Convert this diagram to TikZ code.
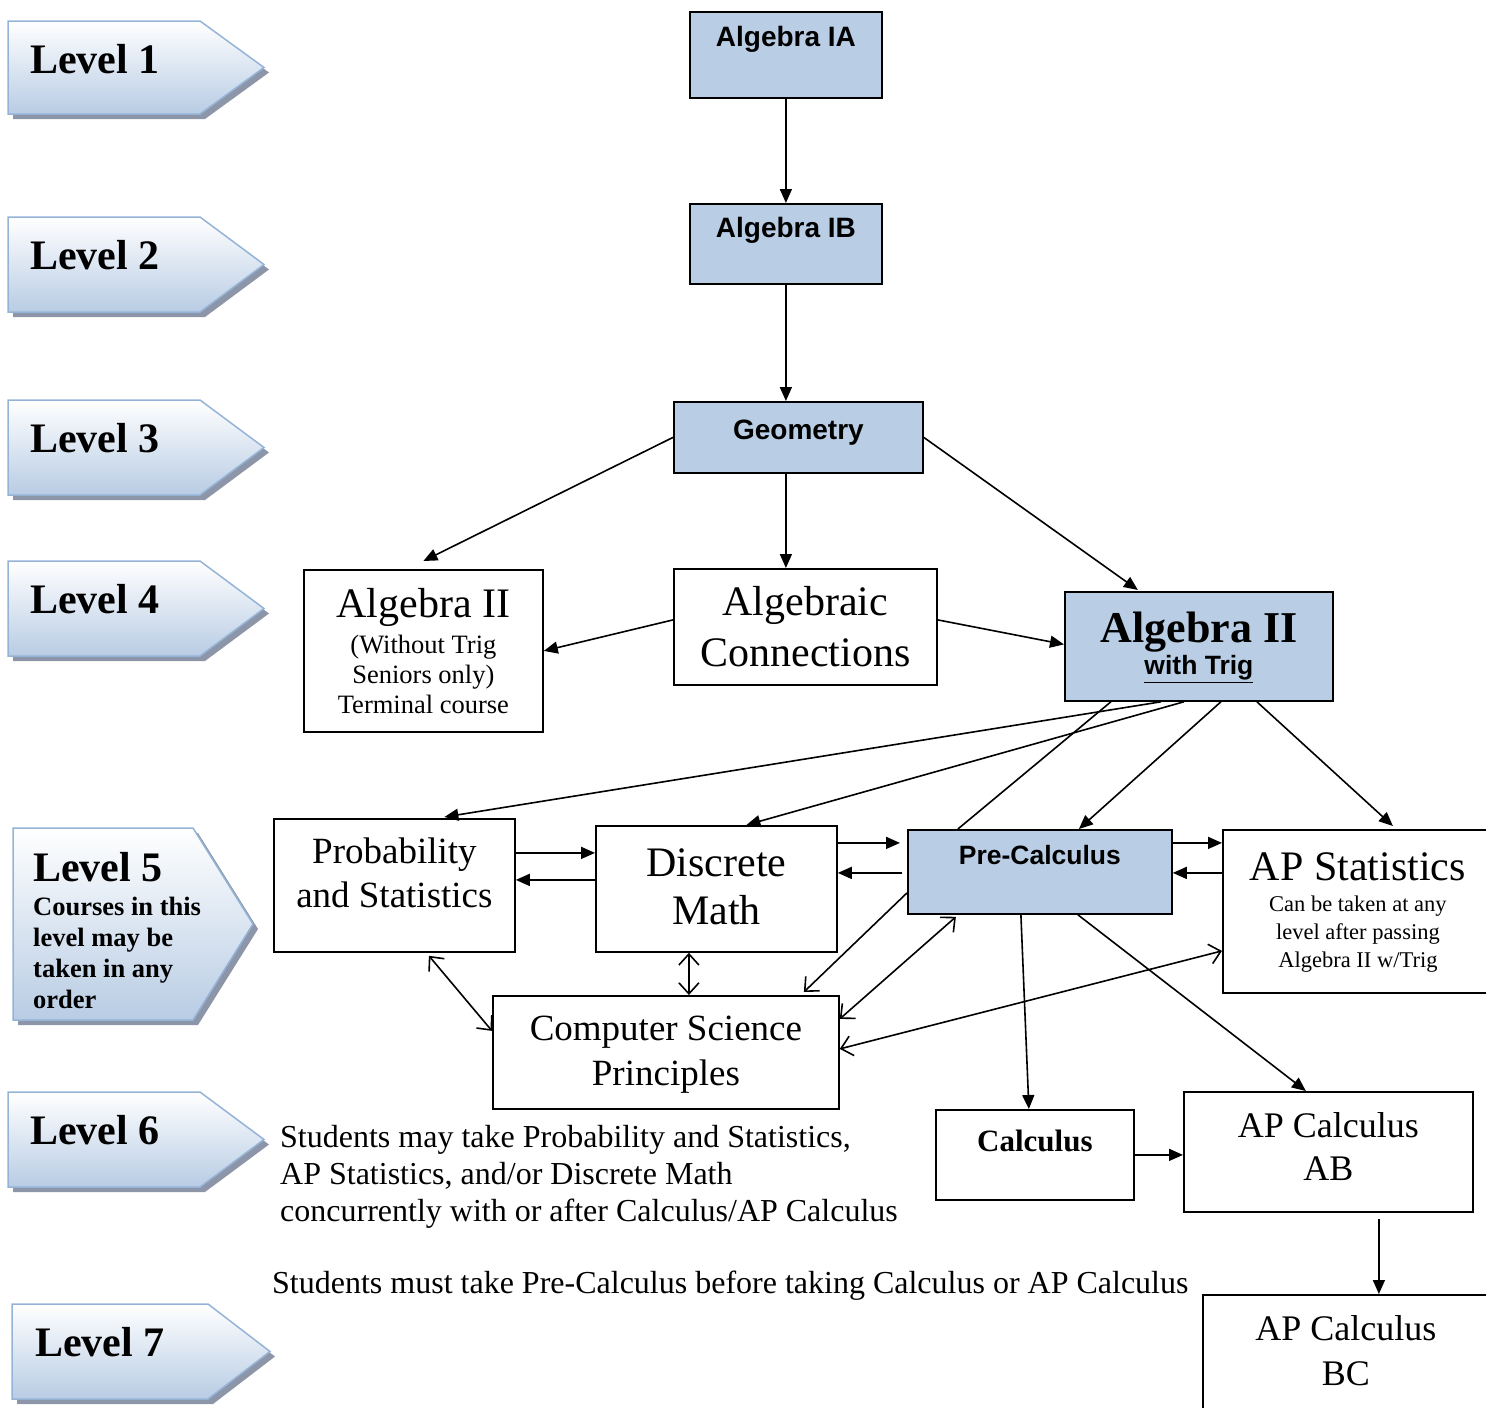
\documentclass[tikz,border=0pt]{standalone}
\usepackage{fontspec}
\setmainfont{Liberation Serif}
\setsansfont{Liberation Sans}
\usepackage{tikz}
\usetikzlibrary{shapes,arrows.meta}
\definecolor{boxblue}{RGB}{185,205,229}
\definecolor{levelblue}{RGB}{184,204,228}
\definecolor{levelline}{RGB}{149,179,215}
\definecolor{levelshadow}{RGB}{140,150,168}
\tikzstyle{course} = [draw, line width=1.8pt, inner sep=0pt, align=flush center, anchor=north west]
\tikzstyle{bluecourse} = [course, fill=boxblue]
\tikzstyle{leveltext} = [anchor=base west, inner sep=0pt, font=\fontsize{42}{46}\selectfont\bfseries]
\tikzstyle{levelfill} = [draw=levelline, line width=1.5pt, top color=white, bottom color=levelblue]
\tikzstyle{levelshade} = [fill=levelshadow]
\tikzstyle{note} = [anchor=base west, inner sep=0pt, text width=960pt, align=flush left, font=\fontsize{32}{37}\selectfont]
\tikzstyle{line} = [draw, line width=1.6pt]
\tikzstyle{arrow} = [line, -{Triangle[length=14pt,width=12pt]}]
\tikzstyle{open} = [line, -{Straight Barb[length=11pt,width=20pt]}]
\tikzstyle{both} = [line, {Straight Barb[length=11pt,width=20pt]}-{Straight Barb[length=11pt,width=20pt]}]
% arrow shape of a level: left, top, body right, bottom, tip
\newcommand{\levelarrow}[5]{%
  \fill[levelshade] (#1+5,#2+5) -- (#3+5,#2+5) -- (#5+5,{(#2+#4)/2+5}) -- (#3+5,#4+5) -- (#1+5,#4+5) -- cycle;
  \draw[levelfill] (#1,#2) -- (#3,#2) -- (#5,{(#2+#4)/2}) -- (#3,#4) -- (#1,#4) -- cycle;
}
\begin{document}
\begin{tikzpicture}[x=1pt, y=-1pt]
\useasboundingbox (0,0) rectangle (1486,1408);

% levels
\levelarrow{8}{21}{200}{114}{264}
\levelarrow{8}{217}{200}{312}{264}
\levelarrow{8}{400}{200}{495}{264}
\levelarrow{8}{561}{200}{656}{264}
\levelarrow{13}{828}{193}{1020}{253}
\levelarrow{8}{1092}{200}{1187}{264}
\levelarrow{12}{1304}{208}{1399}{270}
\node[leveltext] (lev1) at (30,73) {Level 1};
\node[leveltext] (lev2) at (30,269) {Level 2};
\node[leveltext] (lev3) at (30,452) {Level 3};
\node[leveltext] (lev4) at (30,613) {Level 4};
\node[leveltext, text width=215pt, align=flush left, font=\fontsize{26.5}{31}\selectfont\bfseries] (lev5) at (33,881)
  {{\fontsize{42}{46}\selectfont Level 5}\\[3pt] Courses in this\\ level may be\\ taken in any\\ order};
\node[leveltext] (lev6) at (30,1144) {Level 6};
\node[leveltext] (lev7) at (35,1356) {Level 7};

% courses
\node[bluecourse, text width=192pt, text height=35pt, text depth=51pt, font=\fontsize{28}{32}\selectfont\sffamily\bfseries] (aIA) at (689,11) {Algebra IA};
\node[bluecourse, text width=192pt, text height=34pt, text depth=46pt, font=\fontsize{28}{32}\selectfont\sffamily\bfseries] (aIB) at (689,203) {Algebra IB};
\node[bluecourse, text width=249pt, text height=38pt, text depth=33pt, font=\fontsize{28}{32}\selectfont\sffamily\bfseries] (geo) at (673,401) {Geometry};
\node[course, text width=239pt, text height=48pt, text depth=114pt, font=\fontsize{42}{30}\selectfont] (alg2nt) at (303,569)
  {Algebra II\\[6pt]{\fontsize{26.5}{30}\selectfont (Without Trig\\ Seniors only)\\ Terminal course}};
\node[course, text width=263pt, text height=47pt, text depth=69pt, font=\fontsize{42}{51}\selectfont] (aconn) at (673,568) {Algebraic\\ Connections};
\node[bluecourse, text width=268pt, text height=51pt, text depth=58pt, font=\fontsize{44}{32}\selectfont\bfseries] (a2t) at (1064,591)
  {Algebra II\\ {\sffamily\fontsize{26.5}{32}\selectfont\underline{with Trig}}};
\node[course, text width=241pt, text height=45pt, text depth=88pt, font=\fontsize{37}{44}\selectfont] (prob) at (273,818) {Probability\\ and Statistics};
\node[course, text width=241pt, text height=51pt, text depth=75pt, font=\fontsize{42}{48}\selectfont] (disc) at (595,825) {Discrete\\ Math};
\node[bluecourse, text width=264pt, text height=35pt, text depth=49pt, font=\fontsize{26.5}{30}\selectfont\sffamily\bfseries] (precalc) at (907,829) {Pre-Calculus};
\node[course, text width=270pt, text height=51pt, text depth=112pt, font=\fontsize{42}{28}\selectfont] (apst) at (1222,829)
  {AP Statistics\\[3pt]{\fontsize{22.5}{28}\selectfont Can be taken at any\\ level after passing\\ Algebra II w/Trig}};
\node[course, text width=346pt, text height=45pt, text depth=68pt, font=\fontsize{37}{45}\selectfont] (csp) at (492,995) {Computer Science\\ Principles};
\node[course, text width=198pt, text height=42pt, text depth=48pt, font=\fontsize{31}{35}\selectfont\bfseries] (calc) at (935,1109) {Calculus};
\node[course, text width=289pt, text height=46pt, text depth=74pt, font=\fontsize{36}{43}\selectfont] (ab) at (1183,1091) {AP Calculus\\ AB};
\node[course, text width=286pt, text height=46pt, text depth=80pt, font=\fontsize{36}{45}\selectfont] (bc) at (1202,1294) {AP Calculus\\ BC};

% notes
\node[note] (note1) at (280,1147) {Students may take Probability and Statistics,\\ AP Statistics, and/or Discrete Math\\ concurrently with or after Calculus/AP Calculus};
\node[note] (note2) at (272,1293) {Students must take Pre-Calculus before taking Calculus or AP Calculus};

% connections
\draw[arrow] (aIA) -- (aIB);
\draw[arrow] (aIB.south) -- (aIB.south |- geo.north);
\draw[arrow] (geo.west) -- ([yshift=8pt]alg2nt.north);
\draw[arrow] (aIB.south |- geo.south) -- (aIB.south |- aconn.north);
\draw[arrow] (geo.east) -- ([xshift=-61pt,yshift=1pt]a2t.north);
\draw[arrow] ([yshift=7pt]aconn.west) -- (alg2nt.east);
\draw[arrow] ([yshift=7pt]aconn.east) -- ([yshift=2pt]a2t.west);
\draw[arrow] ([xshift=-38pt]a2t.south) -- ([xshift=50pt,yshift=1pt]prob.north);
\draw[arrow] ([xshift=-15pt]a2t.south) -- ([xshift=30pt]disc.north);
\draw[line] ([xshift=-88pt]a2t.south) -- ([xshift=-82pt]precalc.north);
\draw[arrow] ([xshift=22pt]a2t.south) -- ([xshift=39pt]precalc.north);
\draw[arrow] ([xshift=58pt]a2t.south) -- ([xshift=35pt,yshift=3pt]apst.north);
\draw[arrow] ([yshift=32.5pt]prob.east) -- ([yshift=36pt]disc.west);
\draw[arrow] ([yshift=9pt]disc.west) -- ([yshift=5.5pt]prob.east);
\draw[arrow] ([yshift=46pt]disc.east) -- ([xshift=-7pt,yshift=29pt]precalc.west);
\draw[arrow] ([xshift=-5pt,yshift=-1pt]precalc.west) -- ([yshift=16pt]disc.east);
\draw[arrow] ([yshift=29pt]precalc.east) -- ([yshift=68.5pt]apst.west);
\draw[arrow] ([yshift=38.5pt]apst.west) -- ([yshift=-1pt]precalc.east);
\draw[both] ([xshift=34.5pt,yshift=-3pt]prob.south) -- ([yshift=21.5pt]csp.west);
\draw[both] ([xshift=-27.5pt]disc.south) -- ([xshift=23pt]csp.north);
\draw[open] ([yshift=-21pt]precalc.west) -- ([xshift=138pt,yshift=3pt]csp.north);
\draw[both] ([xshift=-84pt,yshift=-2pt]precalc.south) -- ([yshift=33.5pt]csp.east);
\draw[both] ([yshift=-39.5pt]apst.west) -- ([yshift=3.5pt]csp.east);
\draw[arrow] ([xshift=-19pt]precalc.south) -- ([xshift=-6pt]calc.north);
\draw[arrow] ([xshift=38pt]precalc.south) -- ([xshift=-22.5pt]ab.north);
\draw[arrow] (calc.east) -- (calc.east -| ab.west);
\draw[arrow] ([xshift=50.5pt,yshift=-6pt]ab.south) -- ([xshift=33pt]bc.north);
\end{tikzpicture}
\end{document}
